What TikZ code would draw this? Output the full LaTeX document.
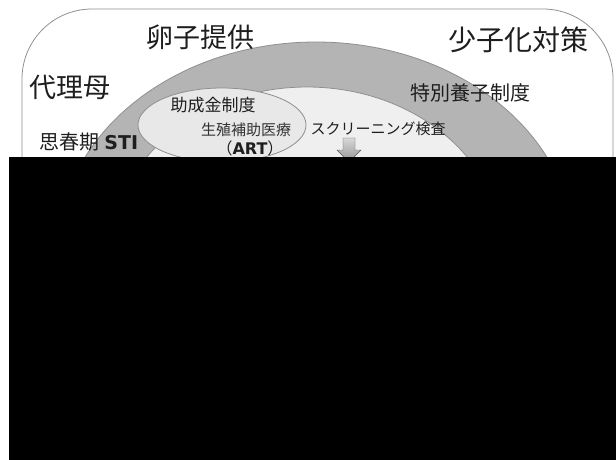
\documentclass[tikz,border=0pt]{standalone}
\usepackage{fontspec}
\setmainfont{Noto Sans CJK JP}
\newfontfamily\verdanaish{DejaVu Sans}
\usetikzlibrary{positioning, calc, shapes.geometric}
\definecolor{frameline}{HTML}{8F8F8F}
\definecolor{bandgray}{HTML}{B4B4B4}
\definecolor{innergray}{HTML}{EFEFEF}
\definecolor{artgray}{HTML}{E8E8E8}
\definecolor{inkgray}{HTML}{1E1E1E}

\begin{document}
\begin{tikzpicture}[
    x=1pt, y=-1pt,
    jp/.style={inner sep=0pt, text=inkgray, font=\fontsize{#1}{#1}\selectfont},
    zone/.style={draw=frameline, line width=0.8pt},
]
\useasboundingbox (0,0) rectangle (616,459);

% Frame and bands
\draw[zone, rounded corners=70pt] (22,9) rectangle (613,420);
\draw[zone, fill=bandgray] (316,250) ellipse [x radius=258pt, y radius=208pt];
\draw[zone, fill=innergray] (307,250) ellipse [x radius=195pt, y radius=163pt];
\node[zone, fill=artgray, ellipse, minimum width=168pt, minimum height=74pt] (art) at (222,125) {};

% Labels
\node[jp=27] (egg) at (200,37) {卵子提供};
\node[jp=28] (policy) at (518,40) {少子化対策};
\node[jp=27] (surrogate) at (70,87) {代理母};
\node[jp=20] (puberty) at (89,142) {思春期 {\verdanaish\bfseries\fontsize{19}{19}\selectfont STI}};
\node[jp=20] (adopt) at (470,93) {特別養子制度};
\node[jp=17] (grant) at (213,105) {助成金制度};
\node[jp=15, text=black!80] (artjp) at (246,130) {生殖補助医療};
\node[jp=16] (arten) at (250,148) {（{\verdanaish\bfseries\fontsize{16}{16}\selectfont ART}）};
\node[jp=15] (screen) at (378,129) {スクリーニング検査};

% Down arrow below the screening label
\coordinate (dn) at (349,138);
\shade[top color=gray!30, bottom color=gray!85, draw=gray!70!black, line width=0.4pt]
  ($(dn)+(-6,0)$) -- ($(dn)+(6,0)$) -- ($(dn)+(6,12)$) -- ($(dn)+(12,12)$)
  -- ($(dn)+(0,24)$) -- ($(dn)+(-12,12)$) -- ($(dn)+(-6,12)$) -- cycle;

% Hidden lower part
\fill[black] (9,157) rectangle (620,475);

\end{tikzpicture}
\end{document}
